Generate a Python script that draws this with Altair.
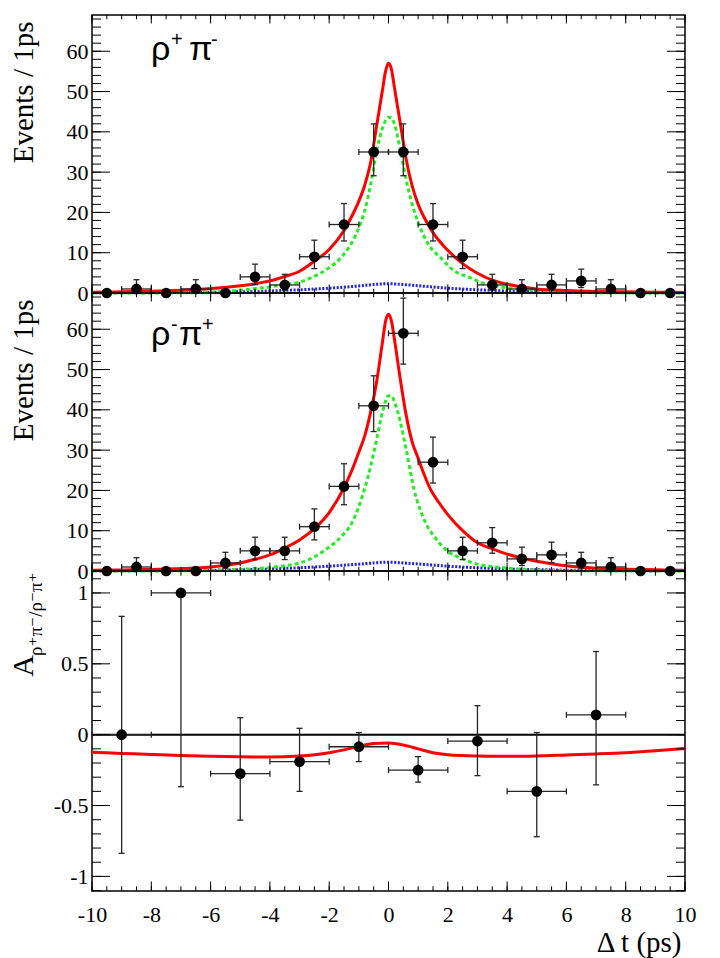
import altair as alt
import pandas as pd

# ---------------- data ----------------
bin_centers = [-9.5, -8.5, -7.5, -6.5, -5.5, -4.5, -3.5, -2.5, -1.5, -0.5,
               0.5, 1.5, 2.5, 3.5, 4.5, 5.5, 6.5, 7.5, 8.5, 9.5]

# rho+ pi-
rp_counts = [0, 1, 0, 1, 0, 4, 2, 9, 17, 35, 35, 17, 9, 2, 1, 2, 3, 1, 0, 0]
rp_err_lo = [0, 0.83, 0, 0.83, 0, 1.91, 1.29, 2.94, 4.08, 5.89,
             5.89, 4.08, 2.94, 1.29, 0.83, 1.29, 1.63, 0.83, 0, 0]
rp_err_hi = [0, 2.30, 0, 2.30, 0, 3.16, 2.64, 4.11, 5.20, 6.97,
             6.97, 5.20, 4.11, 2.64, 2.30, 2.64, 2.92, 2.30, 0, 0]

# rho- pi+
rm_counts = [0, 1, 0, 0, 2, 5, 5, 11, 21, 41, 59, 27, 5, 7, 3, 4, 2, 1, 0, 0]
rm_err_lo = [0, 0.83, 0, 0, 1.29, 2.16, 2.16, 3.28, 4.55, 6.39,
             7.66, 5.17, 2.16, 2.58, 1.63, 1.91, 1.29, 0.83, 0, 0]
rm_err_hi = [0, 2.30, 0, 0, 2.64, 3.38, 3.38, 4.42, 5.62, 7.45,
             8.72, 6.23, 3.38, 3.77, 2.92, 3.16, 2.64, 2.30, 0, 0]

# fit curves, rho+ pi-
rp_red_t = [-10, -9, -8, -7, -6, -5, -4.5, -4, -3.5, -3, -2.5, -2, -1.5, -1.2, -1, -0.8,
            -0.6, -0.4, -0.2, -0.1, 0, 0.1, 0.2, 0.4, 0.6, 0.8, 1, 1.2, 1.5, 2, 2.5, 3,
            3.5, 4, 4.5, 5, 6, 7, 8, 9, 10]
rp_red_y = [0.2, 0.3, 0.45, 0.7, 1.1, 1.8, 2.3, 3.0, 4.1, 5.4, 7.9, 10.8, 15.5, 19.6, 22.8,
            26.8, 32.5, 41.5, 50.5, 55, 57, 55.5, 51, 42, 33, 26.5, 22, 18.8, 15, 10.6, 7.3,
            4.9, 3.2, 2.2, 1.5, 1.0, 0.6, 0.4, 0.3, 0.2, 0.15]
rp_grn_t = [-10, -8, -7, -6, -5.5, -5, -4.5, -4, -3.5, -3, -2.6, -2, -1.6, -1.2, -0.95, -0.8,
            -0.6, -0.4, -0.2, 0, 0.1, 0.2, 0.4, 0.63, 0.8, 1.0, 1.4, 1.75, 2.2, 2.75, 3.2,
            3.5, 4, 4.5, 5, 5.5, 6, 7, 8, 10]
rp_grn_y = [0, 0.02, 0.05, 0.2, 0.4, 0.7, 1.1, 1.5, 2.1, 2.7, 3.8, 6.3, 8.8, 13.0, 17.1,
            20.5, 27, 35.3, 41, 43.6, 43.5, 42, 35.5, 27, 22, 17.5, 11.5, 8.8, 5.6, 3.8,
            2.4, 1.8, 1.3, 0.9, 0.6, 0.4, 0.25, 0.1, 0.03, 0]
blu_t = [-10, -8, -6, -5, -4, -3.3, -2, -1, -0.5, 0, 0.5, 1, 2, 3, 4, 5, 6, 8, 10]
rp_blu_y = [0.05, 0.1, 0.2, 0.3, 0.5, 0.7, 1.2, 1.75, 2.1, 2.3, 2.1, 1.8, 1.2, 0.8, 0.5,
            0.35, 0.2, 0.1, 0.05]

# fit curves, rho- pi+
rm_red_t = [-10, -9, -8, -7, -6, -5, -4.5, -4, -3.5, -3, -2.5, -2, -1.5, -1.2, -1, -0.8,
            -0.6, -0.4, -0.2, -0.1, 0, 0.1, 0.2, 0.4, 0.6, 0.8, 1.0, 1.2, 1.4, 1.7, 2, 2.5,
            3, 3.5, 4, 4.5, 5, 5.5, 6, 7, 8, 9, 10]
rm_red_y = [0.2, 0.25, 0.4, 0.6, 1.0, 2.0, 2.9, 4.0, 5.7, 7.7, 10.5, 14.5, 20.7, 25.6, 29.5,
            33.6, 39.5, 47, 57, 62, 63.7, 62, 57.5, 47.5, 38.5, 32, 28, 24, 20.5, 17, 14,
            10, 7, 5.5, 4.2, 3.2, 2.4, 1.8, 1.3, 0.7, 0.45, 0.3, 0.2]
rm_grn_t = [-10, -7, -6, -5, -4.5, -4, -3.5, -3, -2.5, -2.18, -1.6, -1.23, -0.81, -0.6, -0.4,
            -0.2, 0, 0.1, 0.2, 0.4, 0.6, 0.86, 1.25, 1.6, 1.98, 2.5, 3, 3.5, 4, 4.5, 5, 6, 7, 10]
rm_grn_y = [0, 0.05, 0.15, 0.4, 0.6, 0.9, 1.3, 2.0, 3.5, 5.0, 8.5, 12.0, 20.3, 26, 32.7,
            39.5, 43.5, 43.5, 42, 37, 30, 20.3, 12.0, 8.0, 5.0, 3.0, 1.7, 1.1, 0.7, 0.4,
            0.25, 0.1, 0.04, 0]
rm_blu_y = [0.05, 0.1, 0.2, 0.3, 0.5, 0.7, 1.2, 1.7, 2.0, 2.2, 2.0, 1.75, 1.2, 0.8, 0.5,
            0.35, 0.2, 0.1, 0.05]

# asymmetry
asym_t = [-9, -7, -5, -3, -1, 1, 3, 5, 7]
asym_val = [0.0, 1.0, -0.275, -0.19, -0.085, -0.25, -0.045, -0.40, 0.14]
asym_top = [0.835, 1.0, 0.12, 0.045, 0.015, -0.155, 0.205, 0.015, 0.587]
asym_bot = [-0.837, -0.367, -0.603, -0.40, -0.19, -0.335, -0.289, -0.72, -0.354]
asym_fit_t = [-10, -9, -8, -7, -6, -5, -4, -3, -2, -1.5, -1, -0.5, 0, 0.5, 1, 1.5, 2, 2.5,
              3, 4, 5, 6, 7, 8, 9, 10]
asym_fit_y = [-0.124, -0.132, -0.14, -0.147, -0.153, -0.156, -0.157, -0.15, -0.127, -0.107,
              -0.082, -0.063, -0.059, -0.073, -0.10, -0.127, -0.141, -0.147, -0.15, -0.153,
              -0.15, -0.143, -0.136, -0.127, -0.113, -0.097]

# tick positions / labels
x_tick_labels = [-10, -8, -6, -4, -2, 0, 2, 4, 6, 8, 10]
x_minor_ticks = [i * 0.5 for i in range(-20, 21)]
count_tick_labels = [0, 10, 20, 30, 40, 50, 60]
count_minor_ticks = [i * 2 for i in range(0, 35)]
asym_tick_labels = [-1, -0.5, 0, 0.5, 1]
asym_minor_ticks = [round(i * 0.1, 1) for i in range(-11, 12)]

# ---------------- styling ----------------
W = 593
H_TOP = 278
H_MID = 278
H_BOT = 320
SERIF = "'Liberation Serif', 'Times New Roman', Times, 'DejaVu Serif', serif"
SANS = "'Liberation Sans', Arial, Helvetica, sans-serif"
ERR = "#262626"
RED = "#ff0000"
GREEN = "#22ee22"
BLUE = "#2020e6"

XS = alt.Scale(domain=[-10, 10], nice=False, zero=False)
YS_COUNT = alt.Scale(domain=[0, 69], nice=False, zero=False)
YS_ASYM = alt.Scale(domain=[-1.103, 1.155], nice=False, zero=False)


class Panel:
    """Holds the shared scales / axes of one panel so every layer encodes them identically."""

    def __init__(self, yscale, H, xaxis, yaxis):
        self.yscale = yscale
        self.H = H
        self.xaxis = xaxis
        self.yaxis = yaxis

    def X(self, f):
        return alt.X(f, type="quantitative", scale=XS, axis=self.xaxis)

    def Y(self, f):
        return alt.Y(f, type="quantitative", scale=self.yscale, axis=self.yaxis)

    def frame_ticks(self, ymaj, ymin, xlen, ylen):
        out = []
        H = self.H
        for vals, ln in ((x_minor_ticks, xlen * 0.5), (x_tick_labels, xlen)):
            c = alt.Chart(pd.DataFrame({"v": vals})).mark_rule(color="black", strokeWidth=1)
            out.append(c.encode(x=self.X("v"), y=alt.value(H), y2=alt.value(H - ln)))
            out.append(c.encode(x=self.X("v"), y=alt.value(0), y2=alt.value(ln)))
        for vals, ln in ((ymin, ylen * 0.5), (ymaj, ylen)):
            c = alt.Chart(pd.DataFrame({"v": vals})).mark_rule(color="black", strokeWidth=1)
            out.append(c.encode(y=self.Y("v"), x=alt.value(0), x2=alt.value(ln)))
            out.append(c.encode(y=self.Y("v"), x=alt.value(W), x2=alt.value(W - ln)))
        return out

    def curve(self, t, y, color, dash=None):
        kw = dict(color=color, strokeWidth=3, interpolate="monotone")
        if dash:
            kw["strokeDash"] = dash
        return alt.Chart(pd.DataFrame({"t": t, "y": y})).mark_line(**kw).encode(
            x=self.X("t"), y=self.Y("y"))

    def data_layers(self, base, half):
        b = base.transform_calculate(t0="datum.t - %s" % half, t1="datum.t + %s" % half)
        bars = b.transform_filter("datum.top > datum.bot")
        vbar = bars.mark_rule(color=ERR, strokeWidth=1.3).encode(
            x=self.X("t"), y=self.Y("bot"), y2="top:Q")
        hbar = bars.mark_rule(color=ERR, strokeWidth=1.3).encode(
            x=self.X("t0"), x2="t1:Q", y=self.Y("v"))
        tick_h = dict(orient="horizontal", size=6, thickness=1.3, color=ERR, opacity=1)
        tick_v = dict(orient="vertical", size=6, thickness=1.3, color=ERR, opacity=1)
        cap_t = bars.mark_tick(**tick_h).encode(x=self.X("t"), y=self.Y("top"))
        cap_b = bars.mark_tick(**tick_h).encode(x=self.X("t"), y=self.Y("bot"))
        cap_l = bars.mark_tick(**tick_v).encode(x=self.X("t0"), y=self.Y("v"))
        cap_r = bars.mark_tick(**tick_v).encode(x=self.X("t1"), y=self.Y("v"))
        pts = b.mark_circle(size=115, color="black", opacity=1).encode(
            x=self.X("t"), y=self.Y("v"))
        return [vbar, hbar, cap_t, cap_b, cap_l, cap_r, pts]


def text_piece(txt, x, y, size, font=SANS, angle=0, align="left"):
    kw = dict(text=txt, font=font, fontSize=size, align=align, baseline="alphabetic",
              color="black")
    if angle:
        kw["angle"] = angle
    return alt.Chart(pd.DataFrame({"k": [0]})).mark_text(**kw).encode(
        x=alt.value(x), y=alt.value(y))


count_axis = alt.Axis(values=count_tick_labels, labelExpr="'' + datum.value", labelFont=SERIF,
                      labelFontSize=22, labelColor="black", labelPadding=4, ticks=False,
                      tickSize=0, domain=False, grid=False, title="Events / 1ps",
                      titleFont=SERIF, titleFontSize=29, titleFontWeight="normal",
                      titleColor="black", titleAngle=270, titleAlign="right",
                      titleBaseline="alphabetic", titleX=-60, titleY=6)


def count_panel(counts, lo, hi, red_t, red_y, grn_t, grn_y, blu_y, labels, H):
    p = Panel(YS_COUNT, H, None, count_axis)
    df = pd.DataFrame({"t": bin_centers, "v": counts, "lo": lo, "hi": hi})
    base = alt.Chart(df).transform_calculate(top="datum.v + datum.hi", bot="datum.v - datum.lo")
    layers = [
        p.curve(blu_t, blu_y, BLUE, dash=[2, 1.6]),
        p.curve(grn_t, grn_y, GREEN, dash=[4, 3]),
        p.curve(red_t, red_y, RED),
    ]
    layers += p.data_layers(base, 0.5)
    layers += p.frame_ticks(count_tick_labels, count_minor_ticks, 8.5, 18)
    layers += [text_piece(*q) for q in labels]
    return alt.layer(*layers).properties(width=W, height=H)


top = count_panel(rp_counts, rp_err_lo, rp_err_hi, rp_red_t, rp_red_y, rp_grn_t, rp_grn_y,
                  rp_blu_y,
                  [("ρ", 59, 45, 34), ("+", 79, 31, 20), ("π", 97, 45, 34), ("-", 119, 31, 20)],
                  H_TOP)
mid = count_panel(rm_counts, rm_err_lo, rm_err_hi, rm_red_t, rm_red_y, rm_grn_t, rm_grn_y,
                  rm_blu_y,
                  [("ρ", 59, 52, 34), ("-", 79, 38, 20), ("π", 87, 52, 34), ("+", 110, 38, 20)],
                  H_MID)

# ---------------- asymmetry panel ----------------
x_axis = alt.Axis(values=x_tick_labels, labelExpr="'' + datum.value", labelFont=SERIF,
                  labelFontSize=22, labelColor="black", labelPadding=13, labelFlush=False,
                  labelOverlap=False, ticks=False, tickSize=0, domain=False, grid=False,
                  title="Δ t (ps)", titleFont=SERIF, titleFontSize=29,
                  titleFontWeight="normal", titleColor="black", titleAlign="right",
                  titleBaseline="alphabetic", titleX=W - 4, titleY=60)
asym_axis = alt.Axis(values=asym_tick_labels, labelExpr="'' + datum.value", labelFont=SERIF,
                     labelFontSize=22, labelColor="black", labelPadding=4, ticks=False,
                     tickSize=0, domain=False, grid=False, title=None)

pb = Panel(YS_ASYM, H_BOT, x_axis, asym_axis)
adf = pd.DataFrame({"t": asym_t, "v": asym_val, "top": asym_top, "bot": asym_bot})
abase = alt.Chart(adf)
zero_line = alt.Chart(pd.DataFrame({"v": [0]})).mark_rule(color="black", strokeWidth=2).encode(
    y=pb.Y("v"))
blayers = [pb.curve(asym_fit_t, asym_fit_y, RED), zero_line]
blayers += pb.data_layers(abase, 1)
blayers += pb.frame_ticks(asym_tick_labels, asym_minor_ticks, 9.5, 18)
blayers += [
    text_piece("A", -59, 95, 30, font=SERIF, angle=270, align="center"),
    text_piece("ρ⁺π⁻/ρ⁻π⁺", -50, 85, 19, font=SERIF, angle=270, align="left"),
]
bot = alt.layer(*blayers).properties(width=W, height=H_BOT)

chart = alt.vconcat(top, mid, bot, spacing=0, bounds="flush").properties(
    padding={"left": 0, "top": 5, "right": 5, "bottom": 0},
    background="white",
).configure_view(stroke="black", strokeWidth=1.5)

chart.save("out.html", embed_options={"renderer": "svg", "actions": False})
